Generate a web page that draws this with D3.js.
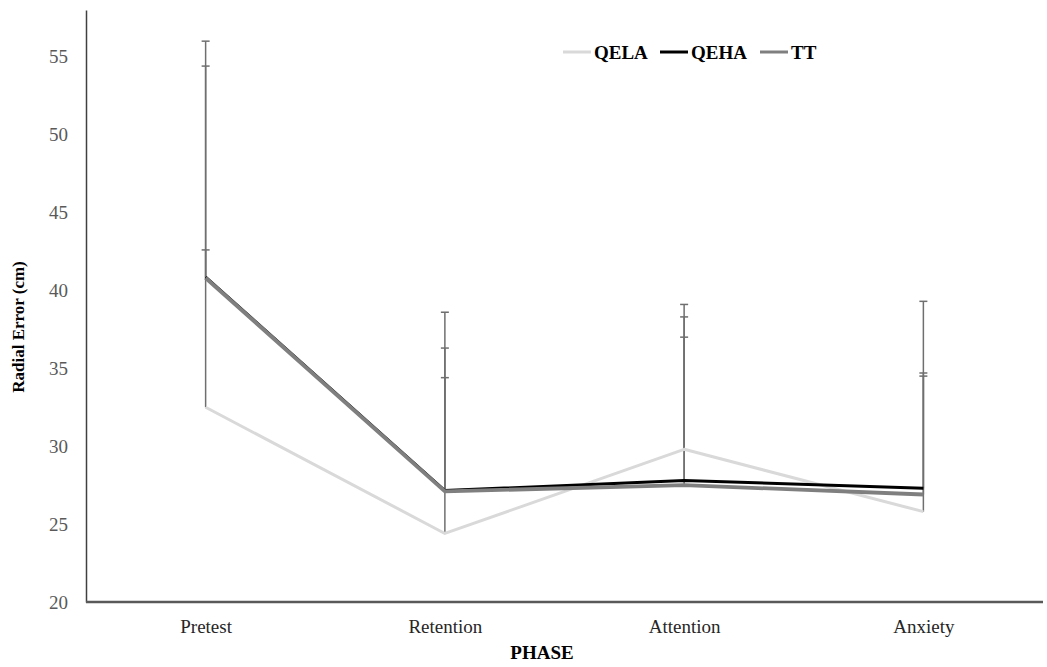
<!DOCTYPE html>
<html>
<head>
<meta charset="utf-8">
<script src="https://cdn.jsdelivr.net/npm/d3@7"></script>
<style>
  body { margin: 0; background: #fff; }
  text { font-family: "Liberation Serif", "Times New Roman", serif; }
</style>
</head>
<body>
<div id="chart"></div>
<script>
// data
var phases = ["Pretest", "Retention", "Attention", "Anxiety"];
var seriesNames = ["QELA", "QEHA", "TT"];
var qela = [32.5, 24.4, 29.8, 25.8];
var qeha = [40.85, 27.15, 27.8, 27.3];
var tt = [40.8, 27.1, 27.5, 26.9];
// upper error bar ends (mean + SD)
var qelaTop = [42.6, 34.4, 37.0, 34.5];
var qehaTop = [56.0, 38.6, 39.1, 39.3];
var ttTop = [54.4, 36.3, 38.3, 34.7];
var yTicks = [20, 25, 30, 35, 40, 45, 50, 55];

var width = 1047, height = 667;
var margin = {top: 10, right: 4, bottom: 65, left: 86};

var svg = d3.select("#chart").append("svg")
    .attr("width", width)
    .attr("height", height);

var x = d3.scalePoint()
    .domain(phases)
    .range([margin.left, width - margin.right])
    .padding(0.5);

var y = d3.scaleLinear()
    .domain([20, 58])
    .range([height - margin.bottom, margin.top]);

var series = [
  {name: seriesNames[0], values: qela, top: qelaTop, color: "#d9d9d9", w: 3},
  {name: seriesNames[1], values: qeha, top: qehaTop, color: "#000000", w: 3},
  {name: seriesNames[2], values: tt, top: ttTop, color: "#7f7f7f", w: 3.8}
];

// axes
var yAxis = svg.append("g")
    .attr("transform", "translate(" + margin.left + ",0)")
    .call(d3.axisLeft(y).tickValues(yTicks).tickSize(0).tickPadding(18));
yAxis.select(".domain").attr("stroke", "#404040").attr("stroke-width", 1.5);
yAxis.selectAll("text").attr("font-size", 19).attr("fill", "#595959")
    .attr("font-family", "Liberation Serif");

var xAxis = svg.append("g")
    .attr("transform", "translate(0," + (height - margin.bottom) + ")")
    .call(d3.axisBottom(x).tickSize(0).tickPadding(18));
xAxis.select(".domain").attr("stroke", "#595959").attr("stroke-width", 2.5)
    .attr("d", "M" + margin.left + ",0H" + (width - margin.right));
xAxis.selectAll("text").attr("font-size", 19).attr("fill", "#262626")
    .attr("font-family", "Liberation Serif");

// error bars
series.forEach(function(s) {
  var g = svg.append("g");
  phases.forEach(function(p, i) {
    g.append("line")
      .attr("x1", x(p)).attr("x2", x(p))
      .attr("y1", y(s.values[i])).attr("y2", y(s.top[i]))
      .attr("stroke", "#6f6f6f").attr("stroke-width", 1.5);
    g.append("line")
      .attr("x1", x(p) - 4).attr("x2", x(p) + 4)
      .attr("y1", y(s.top[i])).attr("y2", y(s.top[i]))
      .attr("stroke", "#6f6f6f").attr("stroke-width", 1.5);
  });
});

// lines
var line = d3.line()
    .x(function(d, i) { return x(phases[i]); })
    .y(function(d) { return y(d); });

series.forEach(function(s) {
  svg.append("path")
    .attr("d", line(s.values))
    .attr("fill", "none")
    .attr("stroke", s.color)
    .attr("stroke-width", s.w)
    .attr("stroke-linejoin", "round");
});

// legend
var legendX = [563, 660, 760];
series.forEach(function(s, i) {
  var lg = svg.append("g").attr("transform", "translate(" + legendX[i] + ",52)");
  lg.append("line").attr("x1", 0).attr("x2", 28).attr("y1", 0).attr("y2", 0)
    .attr("stroke", s.color).attr("stroke-width", 3);
  lg.append("text").attr("x", 31).attr("y", 7)
    .attr("font-size", 19).attr("font-weight", "bold").attr("fill", "#000")
    .text(s.name);
});

// axis titles
svg.append("text")
  .attr("transform", "translate(24," + 327 + ") rotate(-90)")
  .attr("text-anchor", "middle")
  .attr("font-size", 17).attr("font-weight", "bold")
  .text("Radial Error (cm)");

svg.append("text")
  .attr("x", 542).attr("y", 659)
  .attr("text-anchor", "middle")
  .attr("font-size", 19).attr("font-weight", "bold")
  .text("PHASE");
</script>
</body>
</html>
